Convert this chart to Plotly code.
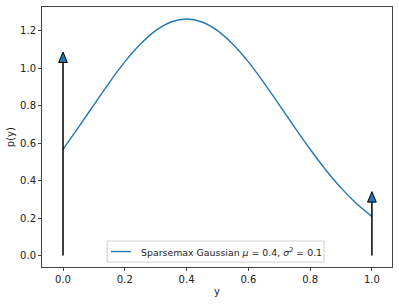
import plotly.graph_objects as go

# Density values (y on [0, 1])
y_vals = [0.00, 0.05, 0.10, 0.15, 0.20, 0.25, 0.30, 0.35, 0.40, 0.45, 0.50,
          0.55, 0.60, 0.65, 0.70, 0.75, 0.80, 0.85, 0.90, 0.95, 1.00]
p_vals = [0.567, 0.684, 0.804, 0.923, 1.033, 1.127, 1.200, 1.246, 1.262, 1.246, 1.200,
          1.127, 1.033, 0.923, 0.804, 0.684, 0.567, 0.458, 0.361, 0.278, 0.209]

# Point-mass arrows (position, shaft height)
arrow_x = [0.0, 1.0]
arrow_h = [1.03, 0.285]

x_ticks = [0.0, 0.2, 0.4, 0.6, 0.8, 1.0]
y_ticks = [0.0, 0.2, 0.4, 0.6, 0.8, 1.0, 1.2]

legend_label = "Sparsemax Gaussian <i>μ</i> = 0.4, <i>σ</i><sup>2</sup> = 0.1"

BLUE = "#1f77b4"
FONT = "DejaVu Sans"
FS = 10
HEAD_W = 0.028   # arrow head width (x data units)
HEAD_L = 0.056   # arrow head length (y data units)

fig = go.Figure()

fig.add_trace(go.Scatter(
    x=y_vals, y=p_vals, mode="lines", name=legend_label, showlegend=False,
    line=dict(color=BLUE, width=1.4, shape="spline"),
))

for ax, ah in zip(arrow_x, arrow_h):
    fig.add_trace(go.Scatter(
        x=[ax, ax], y=[0, ah], mode="lines", showlegend=False,
        line=dict(color="black", width=1.5), hoverinfo="skip",
    ))
    fig.add_trace(go.Scatter(
        x=[ax - HEAD_W / 2, ax + HEAD_W / 2, ax, ax - HEAD_W / 2],
        y=[ah, ah, ah + HEAD_L, ah],
        mode="lines", fill="toself", fillcolor=BLUE, showlegend=False,
        line=dict(color="black", width=1), hoverinfo="skip",
    ))

axis_common = dict(
    showgrid=False, zeroline=False, showline=True, mirror=True,
    linecolor="#444", linewidth=1, ticks="outside", ticklen=3,
    tickcolor="#444", tickwidth=1,
    tickfont=dict(family=FONT, size=FS, color="#222"),
)

# Hand-built legend box (matplotlib "lower center" style)
LX0, LX1, LY0, LY1 = 0.186, 0.806, 0.019, 0.100
LYM = (LY0 + LY1) / 2
shapes = [
    dict(type="rect", xref="paper", yref="paper", x0=LX0, x1=LX1, y0=LY0, y1=LY1,
         line=dict(color="#d0d0d0", width=1), fillcolor="rgba(255,255,255,0.8)",
         layer="above"),
    dict(type="line", xref="paper", yref="paper", x0=0.197, x1=0.254, y0=LYM, y1=LYM,
         line=dict(color=BLUE, width=1.4), layer="above"),
]

fig.update_layout(
    width=399, height=304,
    margin=dict(l=42, r=7, t=7, b=37, autoexpand=False),
    paper_bgcolor="white", plot_bgcolor="white",
    font=dict(family=FONT, size=FS, color="#222"),
    xaxis=dict(range=[-0.068, 1.065], tickvals=x_ticks,
               ticktext=[f"{v:.1f}" for v in x_ticks], **axis_common),
    yaxis=dict(range=[-0.061, 1.326], tickvals=y_ticks,
               ticktext=[f"{v:.1f}" for v in y_ticks], **axis_common),
    showlegend=False,
    shapes=shapes,
    annotations=[
        dict(text=legend_label, xref="paper", yref="paper", x=0.277, y=LYM,
             showarrow=False, xanchor="left", yanchor="middle",
             font=dict(family=FONT, size=9.4, color="#222")),
        dict(text="y", xref="paper", yref="paper", x=0.5, y=-0.096,
             showarrow=False, xanchor="center", yanchor="middle",
             font=dict(family=FONT, size=FS, color="#222")),
        dict(text="p(y)", xref="paper", yref="paper", x=-0.091, y=0.5,
             showarrow=False, xanchor="center", yanchor="middle", textangle=-90,
             font=dict(family=FONT, size=FS, color="#222")),
    ],
)

fig.write_html("out.html", config={"displayModeBar": False},
               post_script="document.body.style.margin='0';")
